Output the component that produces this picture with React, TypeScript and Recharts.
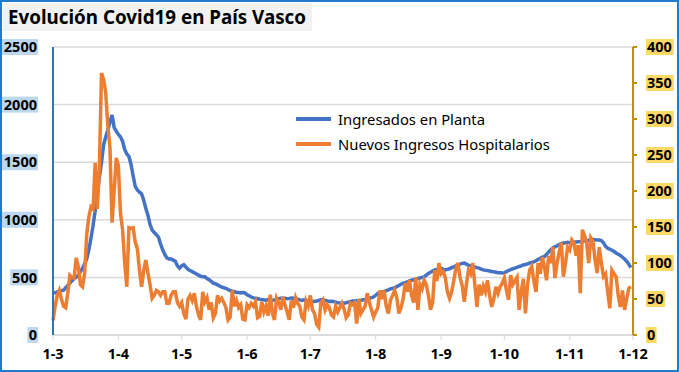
import { LineChart, Line, XAxis, YAxis, CartesianGrid } from 'recharts'

// días desde el 1 de marzo (0 = 1-3) donde empieza cada mes
const monthTicks = [0, 31, 61, 92, 122, 153, 184, 214, 245, 275]
const monthLabels = ['1-3', '1-4', '1-5', '1-6', '1-7', '1-8', '1-9', '1-10', '1-11', '1-12']
const leftTicks = [0, 500, 1000, 1500, 2000, 2500]
const rightTicks = [0, 50, 100, 150, 200, 250, 300, 350, 400]

// Ingresados en Planta (eje izquierdo), un valor por día desde el 1-3
const planta = [
  370, 365, 375, 380, 385, 390, 410, 430, 450, 470,
  490, 500, 520, 550, 580, 620, 660, 740, 840, 950,
  1080, 1220, 1370, 1500, 1650, 1720, 1780, 1850, 1910, 1800,
  1770, 1740, 1720, 1680, 1610, 1570, 1550, 1480, 1380, 1290,
  1260, 1240, 1225, 1170, 1100, 1040, 960, 910, 890, 870,
  850, 790, 740, 700, 670, 660, 660, 650, 640, 600,
  580, 600, 610, 590, 570, 560, 550, 540, 530, 520,
  510, 505, 505, 490, 480, 465, 450, 445, 435, 425,
  415, 410, 405, 395, 385, 380, 375, 370, 370, 365,
  368, 365, 350, 340, 330, 322, 320, 315, 310, 305,
  305, 300, 310, 305, 300, 305, 310, 315, 320, 320,
  320, 315, 318, 322, 320, 315, 310, 305, 300, 305,
  300, 295, 290, 292, 290, 295, 300, 305, 305, 300,
  295, 290, 292, 290, 285, 280, 278, 275, 275, 280,
  285, 290, 295, 295, 298, 300, 302, 305, 305, 310,
  318, 325, 330, 345, 360, 370, 375, 378, 385, 392,
  400, 405, 410, 420, 430, 440, 450, 455, 462, 470,
  475, 480, 485, 490, 495, 500, 505, 520, 535, 545,
  555, 565, 570, 575, 580, 570, 565, 570, 575, 585,
  590, 600, 610, 615, 622, 625, 615, 605, 600, 595,
  590, 585, 580, 572, 565, 562, 560, 555, 552, 550,
  545, 540, 540, 538, 540, 550, 560, 568, 575, 580,
  588, 595, 600, 608, 612, 618, 625, 630, 635, 645,
  655, 665, 675, 680, 700, 720, 740, 755, 765, 775,
  785, 792, 798, 800, 805, 802, 800, 805, 808, 810,
  812, 815, 818, 820, 822, 825, 828, 826, 825, 824,
  820, 800, 770, 752, 745, 735, 725, 712, 700, 690,
  675, 660, 640, 615, 585,
]

// Nuevos Ingresos Hospitalarios (eje derecho)
const nuevos = [
  20, 40, 55, 62, 50, 40, 38, 58, 83, 80,
  79, 107, 95, 70, 67, 86, 140, 164, 178, 175,
  239, 175, 233, 364, 355, 336, 290, 261, 156, 200,
  246, 235, 169, 146, 100, 67, 149, 148, 149, 129,
  120, 90, 67, 90, 104, 86, 70, 51, 55, 62,
  60, 55, 60, 60, 44, 44, 55, 60, 60, 45,
  40, 45, 30, 22, 50, 55, 48, 58, 40, 28,
  21, 60, 46, 52, 35, 45, 24, 30, 55, 47,
  51, 45, 38, 21, 25, 62, 40, 48, 38, 42,
  22, 21, 42, 38, 44, 40, 46, 24, 26, 46,
  32, 40, 27, 56, 30, 21, 51, 45, 35, 53,
  42, 32, 21, 48, 38, 52, 44, 40, 25, 21,
  47, 40, 55, 35, 30, 15, 11, 45, 49, 35,
  42, 38, 28, 25, 40, 32, 38, 44, 36, 24,
  28, 44, 42, 45, 16, 50, 30, 35, 40, 58,
  45, 35, 25, 32, 38, 62, 50, 62, 40, 30,
  48, 55, 62, 52, 30, 38, 50, 72, 60, 76,
  55, 45, 80, 35, 70, 64, 76, 70, 55, 35,
  45, 90, 75, 100, 85, 88, 80, 60, 51, 60,
  75, 92, 100, 80, 69, 46, 70, 90, 85, 100,
  70, 39, 70, 55, 68, 60, 76, 55, 39, 50,
  67, 58, 67, 72, 79, 62, 49, 83, 70, 75,
  80, 35, 60, 78, 30, 70, 90, 95, 75, 60,
  100, 85, 108, 95, 76, 110, 100, 122, 79, 100,
  115, 128, 81, 100, 122, 118, 132, 128, 110, 125,
  58, 146, 138, 128, 100, 135, 130, 105, 86, 122,
  100, 81, 85, 60, 37, 90, 85, 81, 55, 39,
  62, 35, 50, 65, 67,
]

const data = planta.map((v, i) => ({ day: i, planta: v, nuevos: nuevos[i] }))

const FONT = '"Noto Sans", sans-serif'
const BLUE = '#4472C4'
const ORANGE = '#ED7D31'

const series = [
  { name: 'Ingresados en Planta', color: BLUE },
  { name: 'Nuevos Ingresos Hospitalarios', color: ORANGE },
]

const LeftTick = ({ y, payload }: any) => {
  const label = String(payload.value)
  const w = label.length * 8.6 + 2
  return (
    <g>
      <rect x={38 - w} y={y - 8} width={w} height={16} fill="#BDD7EE" />
      <text x={37} y={y} dy="0.36em" textAnchor="end" fontFamily={FONT} fontSize={14.5} fontWeight="bold" fill="#000">
        {label}
      </text>
    </g>
  )
}

const RightTick = ({ y, payload }: any) => {
  const label = String(payload.value)
  const w = label.length * 8.6 + 2
  return (
    <g>
      <rect x={646} y={y - 8} width={w} height={16} fill="#FFD966" />
      <text x={647} y={y} dy="0.36em" textAnchor="start" fontFamily={FONT} fontSize={14.5} fontWeight="bold" fill="#000">
        {label}
      </text>
    </g>
  )
}

const MonthTick = ({ x, payload }: any) => {
  const i = monthTicks.indexOf(payload.value)
  return (
    <text x={x} y={354} dy="0.36em" textAnchor="middle" fontFamily={FONT} fontSize={14.5} fontWeight="bold" fill="#000">
      {monthLabels[i]}
    </text>
  )
}

export default function App() {
  return (
    <div style={{ position: 'absolute', left: 0, top: 0, width: 679, height: 372, background: '#fff' }}>
      <LineChart
        width={679}
        height={372}
        data={data}
        margin={{ top: 47, right: 0, bottom: 7, left: 8 }}
        style={{ position: 'absolute', left: 0, top: 0 }}
      >
        <CartesianGrid yAxisId="left" vertical={false} stroke="#D9D9D9" strokeWidth={1.5} />
        <XAxis
          dataKey="day"
          type="number"
          domain={[0, 275]}
          ticks={monthTicks}
          interval={0}
          height={30}
          axisLine={{ stroke: '#D9D9D9', strokeWidth: 1.5 }}
          tickLine={{ stroke: '#D9D9D9' }}
          tickSize={5}
          tick={<MonthTick />}
        />
        <YAxis
          yAxisId="left"
          domain={[0, 2500]}
          ticks={leftTicks}
          width={45}
          axisLine={{ stroke: '#2E75B6', strokeWidth: 2 }}
          tickLine={false}
          tick={<LeftTick />}
        />
        <YAxis
          yAxisId="right"
          orientation="right"
          domain={[0, 400]}
          ticks={rightTicks}
          width={46}
          axisLine={{ stroke: '#BF9000', strokeWidth: 2 }}
          tickLine={{ stroke: '#BF9000', strokeWidth: 2 }}
          tickSize={4}
          tick={<RightTick />}
        />
        <Line
          yAxisId="left"
          type="linear"
          dataKey="planta"
          name="Ingresados en Planta"
          stroke={BLUE}
          strokeWidth={3.5}
          dot={false}
          isAnimationActive={false}
        />
        <Line
          yAxisId="right"
          type="linear"
          dataKey="nuevos"
          name="Nuevos Ingresos Hospitalarios"
          stroke={ORANGE}
          strokeWidth={3.5}
          dot={false}
          isAnimationActive={false}
        />
      </LineChart>
      <div
        style={{
          position: 'absolute',
          left: 296,
          top: 106,
          fontFamily: FONT,
          fontSize: 14.8,
          color: '#000',
        }}
      >
        {series.map((it) => (
          <div key={it.name} style={{ display: 'flex', alignItems: 'center', height: 25 }}>
            <div style={{ width: 35, height: 4, background: it.color, marginRight: 7 }} />
            <span>{it.name}</span>
          </div>
        ))}
      </div>
      <div
        style={{
          position: 'absolute',
          left: 3,
          top: 3,
          width: 309,
          height: 28,
          background: '#F2F2F2',
          fontFamily: FONT,
          fontWeight: 'bold',
          fontSize: 18.8,
          lineHeight: '28px',
          paddingLeft: 5,
          boxSizing: 'border-box',
          color: '#000',
          whiteSpace: 'nowrap',
        }}
      >
        Evolución Covid19 en País Vasco
      </div>
      <div
        style={{
          position: 'absolute',
          left: 0,
          top: 0,
          width: 679,
          height: 372,
          border: '2px solid #1F7BD0',
          boxSizing: 'border-box',
          pointerEvents: 'none',
        }}
      />
    </div>
  )
}
